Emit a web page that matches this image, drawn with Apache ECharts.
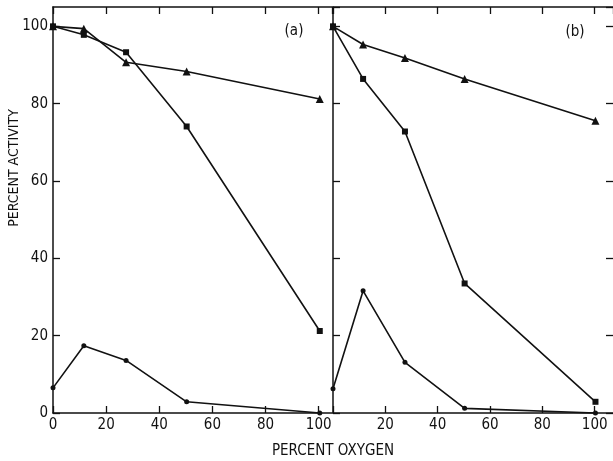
<!DOCTYPE html>
<html>
<head>
<meta charset="utf-8">
<script src="https://cdn.jsdelivr.net/npm/echarts@6/dist/echarts.min.js"></script>
<style>
html,body{margin:0;padding:0;background:#fff;}
#chart{width:613px;height:461px;}
</style>
</head>
<body>
<div id="chart"></div>
<script>
// Panel (a)
var oxygenA = [0, 11.6, 27.5, 50.3, 100.4];
var triangleA = [100, 99.4, 90.7, 88.3, 81.2];
var squareA = [100, 97.8, 93.3, 74.1, 21.2];
var circleA = [6.5, 17.4, 13.6, 2.9, 0];
// Panel (b)
var oxygenB = [0, 11.5, 27.5, 50.3, 100.3];
var triangleB = [100, 95.3, 91.8, 86.4, 75.6];
var squareB = [100, 86.4, 72.8, 33.5, 2.9];
var circleB = [6.3, 31.6, 13.1, 1.2, 0];
// Texts
var panelLabels = ['(a)', '(b)'];
var xTitle = 'PERCENT OXYGEN';
var yTitle = 'PERCENT ACTIVITY';

var FONT = '"Liberation Sans Narrow", "DejaVu Sans Condensed", "Liberation Sans", sans-serif';
var INK = '#111';

function pairs(xs, ys) { return xs.map(function (x, i) { return [x, ys[i]]; }); }

var lineStyle = { color: INK, width: 1.6 };
var axisLine = { show: true, onZero: false, lineStyle: { color: INK, width: 1.5 } };
var tickIn = { show: true, inside: true, length: 7, lineStyle: { color: INK, width: 1.3 } };

function mkSeries(xi, yi, xs, ys, sym, size) {
  return {
    type: 'line', xAxisIndex: xi, yAxisIndex: yi,
    data: pairs(xs, ys), symbol: sym, symbolSize: size, showSymbol: true,
    lineStyle: lineStyle, itemStyle: { color: INK }, clip: false,
    animation: false
  };
}

var chart = echarts.init(document.getElementById('chart'), null, { renderer: 'canvas' });
chart.setOption({
  backgroundColor: '#fff',
  animation: false,
  grid: [
    { left: 53, top: 7, width: 279, height: 406 },
    { left: 333, top: 7, width: 281, height: 406 }
  ],
  xAxis: [
    { gridIndex: 0, type: 'value', position: 'bottom', min: 0, max: 105, interval: 20,
      axisLine: axisLine, axisTick: tickIn, splitLine: { show: false },
      axisLabel: { color: INK, fontFamily: FONT, fontSize: 15, margin: 5, showMaxLabel: false,
        formatter: function (v) { return v % 20 === 0 ? String(v) : ''; } } },
    { gridIndex: 0, type: 'value', position: 'top', min: 0, max: 105, interval: 20,
      axisLine: axisLine, axisTick: tickIn, splitLine: { show: false }, axisLabel: { show: false } },
    { gridIndex: 1, type: 'value', position: 'bottom', min: 0, max: 107, interval: 20,
      axisLine: axisLine, axisTick: tickIn, splitLine: { show: false },
      axisLabel: { color: INK, fontFamily: FONT, fontSize: 15, margin: 5, showMaxLabel: false,
        formatter: function (v) { return (v % 20 === 0 && v > 0) ? String(v) : ''; } } },
    { gridIndex: 1, type: 'value', position: 'top', min: 0, max: 107, interval: 20,
      axisLine: axisLine, axisTick: tickIn, splitLine: { show: false }, axisLabel: { show: false } }
  ],
  yAxis: [
    { gridIndex: 0, type: 'value', position: 'left', min: 0, max: 105, interval: 20,
      axisLine: axisLine, axisTick: tickIn, splitLine: { show: false },
      axisLabel: { color: INK, fontFamily: FONT, fontSize: 15, margin: 5, showMaxLabel: false,
        formatter: function (v) { return v % 20 === 0 ? String(v) : ''; } } },
    { gridIndex: 1, type: 'value', position: 'left', min: 0, max: 105, interval: 20,
      axisLine: axisLine, axisTick: tickIn, splitLine: { show: false }, axisLabel: { show: false } },
    { gridIndex: 1, type: 'value', position: 'right', min: 0, max: 105, interval: 20,
      axisLine: { show: false, onZero: false }, axisTick: tickIn, splitLine: { show: false }, axisLabel: { show: false } }
  ],
  series: [
    mkSeries(0, 0, oxygenA, triangleA, 'triangle', 8),
    mkSeries(0, 0, oxygenA, squareA, 'rect', 6),
    mkSeries(0, 0, oxygenA, circleA, 'circle', 5),
    mkSeries(2, 1, oxygenB, triangleB, 'triangle', 8),
    mkSeries(2, 1, oxygenB, squareB, 'rect', 6),
    mkSeries(2, 1, oxygenB, circleB, 'circle', 5)
  ],
  graphic: [
    { type: 'text', x: 294, y: 31, style: { text: panelLabels[0], fill: INK, font: '15px ' + FONT, textAlign: 'center', textVerticalAlign: 'middle' } },
    { type: 'text', x: 575, y: 32, style: { text: panelLabels[1], fill: INK, font: '15px ' + FONT, textAlign: 'center', textVerticalAlign: 'middle' } },
    { type: 'text', x: 333, y: 451, style: { text: xTitle, fill: INK, font: '15px ' + FONT, textAlign: 'center', textVerticalAlign: 'middle' } },
    { type: 'text', x: 14, y: 168, rotation: Math.PI / 2, style: { text: yTitle, fill: INK, font: '14px ' + FONT, textAlign: 'center', textVerticalAlign: 'middle' } }
  ]
});
</script>
</body>
</html>
